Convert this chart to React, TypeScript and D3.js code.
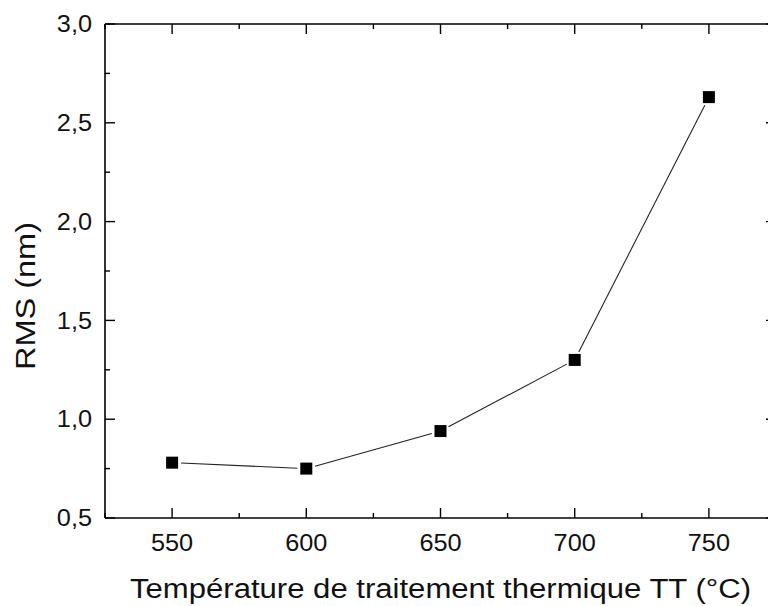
import React from "react";
import * as d3 from "d3";

const temperatures = [550, 600, 650, 700, 750];
const rmsValues = [0.78, 0.75, 0.94, 1.3, 2.63];
const xTicks = [550, 600, 650, 700, 750];
const xMinorTicks = [525, 575, 625, 675, 725, 775];
const yTicks = [0.5, 1.0, 1.5, 2.0, 2.5, 3.0];
const yMinorTicks = [0.75, 1.25, 1.75, 2.25, 2.75];
const xTitle = "Température de traitement thermique TT (°C)";
const yTitle = "RMS (nm)";

const W = 768;
const H = 606;
const left = 105;
const right = 776;
const top = 24;
const bottom = 518;

function labelWidth(s: string, size: number) {
  let w = 0;
  for (const c of s) w += c === "," ? 0.278 : 0.556;
  return w * size * 1.1;
}

export default function App() {
  const x = d3.scaleLinear().domain([525, 775]).range([left, right]);
  const y = d3.scaleLinear().domain([0.5, 3.0]).range([bottom, top]);
  const fmt = (v: number) => v.toFixed(1).replace(".", ",");
  const font = "Liberation Sans, Arial, sans-serif";
  const pts = temperatures.map((t, i) => [x(t), y(rmsValues[i])] as [number, number]);
  const gap = 9;
  const segs = pts.slice(1).map((p, i) => {
    const a = pts[i];
    const dx = p[0] - a[0];
    const dy = p[1] - a[1];
    const len = Math.hypot(dx, dy);
    const ux = dx / len;
    const uy = dy / len;
    return [a[0] + ux * gap, a[1] + uy * gap, p[0] - ux * gap, p[1] - uy * gap];
  });
  const ms = 12;
  const fs = 23;
  return (
    <svg width={W} height={H} style={{ position: "absolute", left: 0, top: 0, background: "#fff" }}>
      <rect x={0} y={0} width={W} height={H} fill="#fff" />
      <g stroke="#000" strokeWidth={1.6} fill="none">
        <line x1={left} y1={top} x2={right} y2={top} />
        <line x1={left} y1={bottom} x2={right} y2={bottom} />
        <line x1={left} y1={top} x2={left} y2={bottom} />
        <line x1={right} y1={top} x2={right} y2={bottom} />
      </g>
      <g stroke="#000" strokeWidth={1.4}>
        {xTicks.map((t) => (
          <g key={"xt" + t}>
            <line x1={x(t)} x2={x(t)} y1={bottom} y2={bottom - 10} />
            <line x1={x(t)} x2={x(t)} y1={top} y2={top + 10} />
          </g>
        ))}
        {xMinorTicks.map((t) => (
          <g key={"xm" + t}>
            <line x1={x(t)} x2={x(t)} y1={bottom} y2={bottom - 5} />
            <line x1={x(t)} x2={x(t)} y1={top} y2={top + 5} />
          </g>
        ))}
        {yTicks.map((t) => (
          <g key={"yt" + t}>
            <line x1={left} x2={left + 10} y1={y(t)} y2={y(t)} />
            <line x1={right} x2={right - 10} y1={y(t)} y2={y(t)} />
          </g>
        ))}
        {yMinorTicks.map((t) => (
          <g key={"ym" + t}>
            <line x1={left} x2={left + 5} y1={y(t)} y2={y(t)} />
            <line x1={right} x2={right - 5} y1={y(t)} y2={y(t)} />
          </g>
        ))}
      </g>
      <g fontFamily={font} fontSize={fs} fill="#111">
        {xTicks.map((t) => (
          <text
            key={"xl" + t}
            x={x(t)}
            y={551}
            textAnchor="middle"
            textLength={labelWidth(String(t), fs)}
            lengthAdjust="spacingAndGlyphs"
          >
            {t}
          </text>
        ))}
        {yTicks.map((t) => (
          <text
            key={"yl" + t}
            x={92}
            y={y(t)}
            dy="0.36em"
            textAnchor="end"
            textLength={labelWidth(fmt(t), fs)}
            lengthAdjust="spacingAndGlyphs"
          >
            {fmt(t)}
          </text>
        ))}
      </g>
      <text
        x={440.5}
        y={598}
        textAnchor="middle"
        fontFamily={font}
        fontSize={27}
        fill="#111"
        textLength={621}
        lengthAdjust="spacingAndGlyphs"
      >
        {xTitle}
      </text>
      <text
        transform={`translate(35,296) rotate(-90)`}
        textAnchor="middle"
        fontFamily={font}
        fontSize={27}
        fill="#111"
        textLength={148}
        lengthAdjust="spacingAndGlyphs"
      >
        {yTitle}
      </text>
      <g stroke="#222" strokeWidth={1.1}>
        {segs.map((s, i) => (
          <line key={"s" + i} x1={s[0]} y1={s[1]} x2={s[2]} y2={s[3]} />
        ))}
      </g>
      <g fill="#000">
        {pts.map((p, i) => (
          <rect key={"m" + i} x={p[0] - ms / 2} y={p[1] - ms / 2} width={ms} height={ms} />
        ))}
      </g>
    </svg>
  );
}
